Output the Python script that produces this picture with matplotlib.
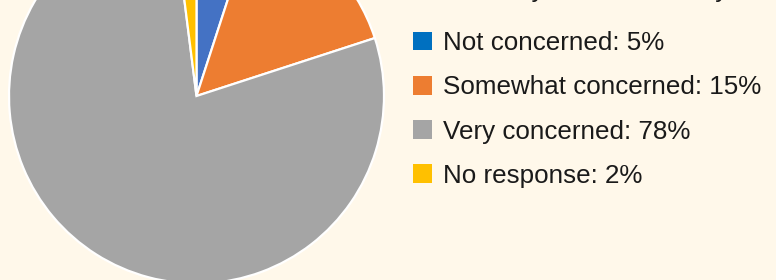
import matplotlib
matplotlib.use("Agg")
import matplotlib.pyplot as plt
from matplotlib.patches import Patch

categories = ["Not concerned", "Somewhat concerned", "Very concerned", "No response"]
values = [5, 15, 78, 2]
slice_colors = ["#4472C4", "#ED7D31", "#A5A5A5", "#FFC000"]
legend_colors = ["#0070C0", "#ED7D31", "#A5A5A5", "#FFC000"]
title = "Community concern survey"

BG = "#FFF8EA"
W, H = 776, 280
fig = plt.figure(figsize=(W / 100, H / 100), dpi=100, facecolor=BG)
plt.rcParams['font.family'] = ['Liberation Sans', 'DejaVu Sans']

cx, cy, r = 196.5, 96, 187.5
ax = fig.add_axes([(cx - r) / W, (H - cy - r) / H, 2 * r / W, 2 * r / H])
ax.set_facecolor(BG)
ax.pie(values, colors=slice_colors, startangle=90, counterclock=False,
       radius=1, wedgeprops=dict(edgecolor="white", linewidth=1.6))
ax.set_xlim(-1, 1)
ax.set_ylim(-1, 1)
ax.set_aspect("auto")
ax.axis("off")

fs = 18.7
labels = [f"{c}: {v}%" for c, v in zip(categories, values)]
handles = [Patch(facecolor=c, edgecolor="none") for c in legend_colors]
fig.legend(handles, labels, loc="upper left",
           bbox_to_anchor=(413 / W, 1 - 31 / H), frameon=False,
           fontsize=fs, handlelength=0.73, handleheight=0.73,
           handletextpad=0.42, labelspacing=0.78, borderpad=0,
           borderaxespad=0, labelcolor="#1a1a1a")

fig.text(413 / W, 1 + 3.5 / H, title, fontsize=fs, va="baseline",
         ha="left", color="#1a1a1a")

fig.savefig("out.png", dpi=100, facecolor=BG)
